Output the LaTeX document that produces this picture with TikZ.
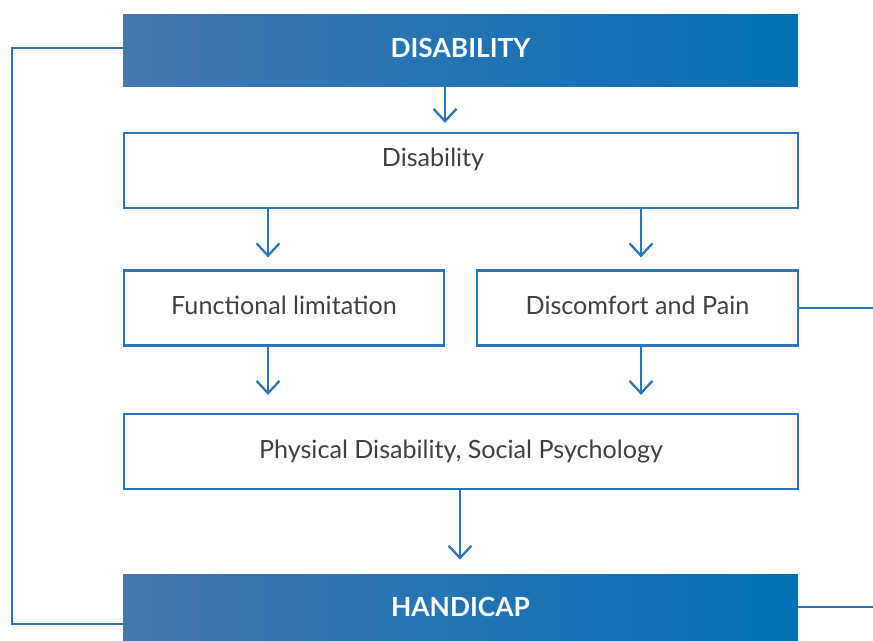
\documentclass[tikz,border=0pt]{standalone}
\usepackage{fontspec}
\setmainfont{Lato}
\usepackage{xcolor}
\usetikzlibrary{arrows.meta}

\definecolor{bandleft}{HTML}{4677AE}
\definecolor{bandright}{HTML}{0070B8}
\definecolor{edgeblue}{HTML}{2A74B8}
\definecolor{inkgray}{HTML}{404040}

\begin{document}
\begin{tikzpicture}[x=0.02cm, y=-0.02cm, >={Straight Barb[length=7pt,width=13pt]},
    band/.style={rectangle, left color=bandleft, right color=bandright, draw=none,
      text=white, font=\bfseries\fontsize{15}{17}\selectfont, minimum width=13.5cm},
    box/.style={rectangle, draw=edgeblue, line width=1.3pt, fill=white, text=inkgray,
      font=\fontsize{14.3}{16}\selectfont, minimum height=1.5cm},
    link/.style={edgeblue, line width=1.3pt},
    arr/.style={->, edgeblue, line width=1.3pt}]
    \useasboundingbox (0,0) rectangle (873,640);

    \node [band, minimum height=1.46cm, text depth=0.1cm] (top) at (460.5, 50.5) {DISABILITY};
    \node [box, minimum width=13.48cm, text height=0.3cm, text depth=0.46cm] (dis) at (461, 170.5) {Disability\kern1.12cm};
    \node [box, minimum width=6.4cm, text depth=0.1cm] (func) at (284, 308) {Functional limitation};
    \node [box, minimum width=6.42cm, text depth=0.1cm] (pain) at (637.5, 308) {Discomfort and Pain};
    \node [box, minimum width=13.48cm] (phys) at (461, 451.5) {Physical Disability, Social Psychology};
    \node [band, minimum height=1.32cm] (hand) at (460.5, 607) {HANDICAP};

    \coordinate (side) at (12, 624);
    \coordinate (edge) at (873, 0);

    \draw [arr, shorten >=0.18cm] (top.south -| 445,0) -- (dis.north -| 445,0);
    \draw [arr, shorten >=0.24cm] (dis.south -| 268,0) -- (func.north -| 268,0);
    \draw [arr, shorten >=0.24cm] (dis.south -| 641,0) -- (pain.north -| 641,0);
    \draw [arr, shorten >=0.36cm] (func.south -| 268,0) -- (phys.north -| 268,0);
    \draw [arr, shorten >=0.36cm] (pain.south -| 641,0) -- (phys.north -| 641,0);
    \draw [arr, shorten >=0.28cm] (phys.south -| 460,0) -- (hand.north -| 460,0);

    \draw [link] (top.west |- 0,48) -| (side) -- (hand.west |- side);
    \draw [link] (pain.east) -- (pain.east -| edge);
    \draw [link] (hand.east) -- (hand.east -| edge);
\end{tikzpicture}
\end{document}
